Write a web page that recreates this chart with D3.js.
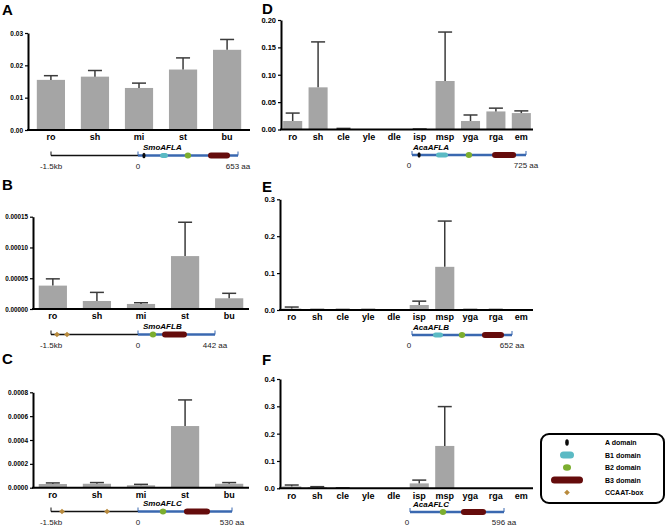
<!DOCTYPE html>
<html>
<head>
<meta charset="utf-8">
<script src="https://cdnjs.cloudflare.com/ajax/libs/d3/7.8.5/d3.min.js"></script>
<style>
  body { margin: 0; background: #fff; }
  svg { font-family: "Liberation Sans", Arial, sans-serif; }
</style>
</head>
<body>
<div id="chart"></div>
<script>
// tissues
const smoTissues = ["ro", "sh", "mi", "st", "bu"];
const acaTissues = ["ro", "sh", "cle", "yle", "dle", "isp", "msp", "yga", "rga", "em"];

// expression means and upper error values
const smoAFLA = [0.0155, 0.0165, 0.0130, 0.0187, 0.0248];
const smoAFLAErr = [0.0168, 0.0184, 0.0145, 0.0223, 0.0280];
const smoAFLB = [0.000038, 0.000013, 0.0000082, 0.000086, 0.0000174];
const smoAFLBErr = [0.000049, 0.000027, 0.0000102, 0.000141, 0.0000255];
const smoAFLC = [0.000031, 0.000033, 0.00002, 0.000517, 0.000033];
const smoAFLCErr = [0.00004, 0.000043, 0.000028, 0.000736, 0.000043];
const acaAFLA = [0.0155, 0.077, 0.001, 0, 0, 0.0004, 0.0886, 0.0155, 0.033, 0.030];
const acaAFLAErr = [0.030, 0.160, 0.002, 0, 0, 0.0009, 0.178, 0.0265, 0.039, 0.034];
const acaAFLB = [0.004, 0.001, 0.001, 0.001, 0, 0.0135, 0.117, 0.001, 0.001, 0];
const acaAFLBErr = [0.008, 0.0015, 0.0015, 0.0015, 0, 0.024, 0.241, 0.0015, 0.0015, 0];
const acaAFLC = [0.007, 0.004, 0.001, 0, 0, 0.018, 0.155, 0, 0, 0];
const acaAFLCErr = [0.012, 0.006, 0.0015, 0, 0, 0.030, 0.299, 0, 0, 0];

// y tick labels
const ticksA = [0, 0.01, 0.02, 0.03];
const ticksB = [0, 0.00005, 0.0001, 0.00015];
const ticksC = [0, 0.0002, 0.0004, 0.0006, 0.0008];
const ticksD = [0, 0.05, 0.10, 0.15, 0.20];
const ticksE = [0, 0.1, 0.2, 0.3];
const ticksF = [0, 0.1, 0.2, 0.3, 0.4];

// gene structures: promoter (bp), protein length (aa), domains in aa, CCAAT boxes in bp
const geneNames = ["SmoAFLA", "SmoAFLB", "SmoAFLC", "AcaAFLA", "AcaAFLB", "AcaAFLC"];
const promoterLen = [1500, 1500, 1500, 0, 0, 0];
const proteinLen = [653, 442, 530, 725, 652, 596];
const aDomain = [39, null, null, 45, null, null];
const b1Domain = [[144, 196], null, null, [153, 229], [137, 202], null];
const b2Domain = [326, 86, 141, 362, 326, 209];
const b3Domain = [[457, 601], [138, 281], [259, 406], [509, 662], [456, 600], [323, 482]];
const ccaatBoxes = [[], [-1397, -1224], [-1310, -534], [], [], []];

const legendLabels = ["A domain", "B1 domain", "B2 domain", "B3 domain", "CCAAT-box"];

const colA = "#0a0a0a", colB1 = "#5bbac4", colB2 = "#7cae2f", colB3 = "#650c0c", colBox = "#b88a3c";
const colProt = "#3a68b0";

const svg = d3.select("#chart").append("svg")
  .attr("width", 666).attr("height", 529);

const panels = [
  {letter: "A", lx: 2, ly: 15, cats: smoTissues, vals: smoAFLA, errs: smoAFLAErr, ticks: ticksA, fmt: ".2f",
   x0: 28, x1: 250, y0: 130, y1: 33, fs: 6.5, pi: 0.36, po: 0.2, gene: 0,
   gy: 155.5, gx: [51, 138, 238]},
  {letter: "B", lx: 2, ly: 190, cats: smoTissues, vals: smoAFLB, errs: smoAFLBErr, ticks: ticksB, fmt: ".5f",
   x0: 33, x1: 249, y0: 309, y1: 216.7, fs: 6.3, pi: 0.36, po: 0.13, gene: 1,
   gy: 334.5, gx: [51, 138, 215]},
  {letter: "C", lx: 2, ly: 364, cats: smoTissues, vals: smoAFLC, errs: smoAFLCErr, ticks: ticksC, fmt: ".4f",
   x0: 33, x1: 249, y0: 487.7, y1: 392.3, fs: 6.5, pi: 0.36, po: 0.13, gene: 2,
   gy: 511.5, gx: [51, 138, 232]},
  {letter: "D", lx: 262, ly: 14, cats: acaTissues, vals: acaAFLA, errs: acaAFLAErr, ticks: ticksD, fmt: ".2f",
   x0: 281, x1: 533, y0: 129.5, y1: 20, fs: 7.5, pi: 0.25, po: 0.085, gene: 3,
   gy: 155, gx: [412, 412, 526]},
  {letter: "E", lx: 262, ly: 192, cats: acaTissues, vals: acaAFLB, errs: acaAFLBErr, ticks: ticksE, fmt: ".1f",
   x0: 280, x1: 533, y0: 310, y1: 199.3, fs: 7.5, pi: 0.25, po: 0.085, gene: 4,
   gy: 335, gx: [412, 412, 512]},
  {letter: "F", lx: 262, ly: 365, cats: acaTissues, vals: acaAFLC, errs: acaAFLCErr, ticks: ticksF, fmt: ".1f",
   x0: 280, x1: 533, y0: 488.3, y1: 379, fs: 7.5, pi: 0.25, po: 0.085, gene: 5,
   gy: 512, gx: [410, 410, 504]}
];

panels.forEach(p => {
  const g = svg.append("g");

  g.append("text").attr("x", p.lx).attr("y", p.ly)
    .attr("font-size", 15).attr("font-weight", "bold").text(p.letter);

  const x = d3.scaleBand().domain(p.cats).range([p.x0, p.x1])
    .paddingInner(p.pi).paddingOuter(p.po);
  const y = d3.scaleLinear().domain([0, p.ticks[p.ticks.length - 1]]).range([p.y0, p.y1]);

  const rows = p.cats.map((c, i) => ({c: c, v: p.vals[i], e: p.errs[i]}));

  // bars
  g.selectAll("rect.bar").data(rows).enter().append("rect")
    .attr("class", "bar")
    .attr("x", d => x(d.c))
    .attr("width", x.bandwidth())
    .attr("y", d => y(d.v))
    .attr("height", d => y(0) - y(d.v))
    .attr("fill", "#a5a5a5");

  // error bars (upper only)
  const cap = 7;
  const eb = g.selectAll("g.err").data(rows.filter(d => d.e > d.v)).enter().append("g")
    .attr("stroke", "#3b3b3b").attr("stroke-width", 1.5);
  eb.append("line")
    .attr("x1", d => x(d.c) + x.bandwidth() / 2).attr("x2", d => x(d.c) + x.bandwidth() / 2)
    .attr("y1", d => y(d.v)).attr("y2", d => y(d.e));
  eb.append("line")
    .attr("x1", d => x(d.c) + x.bandwidth() / 2 - cap).attr("x2", d => x(d.c) + x.bandwidth() / 2 + cap)
    .attr("y1", d => y(d.e)).attr("y2", d => y(d.e));

  // axes
  const yAxis = g.append("g").attr("transform", `translate(${p.x0},0)`)
    .call(d3.axisLeft(y).tickValues(p.ticks).tickFormat(d3.format(p.fmt)).tickSize(3).tickSizeOuter(0));
  yAxis.select(".domain").attr("stroke-width", 2);
  yAxis.selectAll(".tick line").attr("stroke-width", 1.2);
  yAxis.selectAll("text").attr("font-size", p.fs).attr("font-weight", "bold")
    .attr("font-family", "Liberation Sans, Arial, sans-serif").attr("dx", 1);

  const xAxis = g.append("g").attr("transform", `translate(0,${p.y0})`)
    .call(d3.axisBottom(x).tickSize(0).tickSizeOuter(0).tickPadding(4));
  xAxis.select(".domain").attr("stroke-width", 2)
    .attr("d", `M${p.x0 - 1},0H${p.x1}`);
  xAxis.selectAll("text").attr("font-size", 9).attr("font-weight", "bold")
    .attr("font-family", "Liberation Sans, Arial, sans-serif");

  // gene diagram
  const gi = p.gene;
  const gy = p.gy;
  const dg = svg.append("g");
  const prot = d3.scaleLinear().domain([0, proteinLen[gi]]).range([p.gx[1], p.gx[2]]);
  const prom = d3.scaleLinear().domain([-promoterLen[gi], 0]).range([p.gx[0], p.gx[1]]);
  const isSmo = promoterLen[gi] > 0;

  dg.append("text").attr("x", isSmo ? 143 : 413).attr("y", gy - 5.5)
    .attr("font-size", 8).attr("font-weight", "bold").attr("font-style", "italic")
    .text(geneNames[gi]);

  if (isSmo) {
    dg.append("line").attr("x1", prom(-promoterLen[gi])).attr("x2", prom(0))
      .attr("y1", gy).attr("y2", gy).attr("stroke", "#111").attr("stroke-width", 1.5);
    dg.append("line").attr("x1", prom(-promoterLen[gi])).attr("x2", prom(-promoterLen[gi]))
      .attr("y1", gy - 4).attr("y2", gy).attr("stroke", "#111").attr("stroke-width", 1);
  }
  dg.append("line").attr("x1", prot(0)).attr("x2", prot(proteinLen[gi]))
    .attr("y1", gy).attr("y2", gy).attr("stroke", colProt).attr("stroke-width", 2.5);
  [0, proteinLen[gi]].forEach(v => {
    dg.append("line").attr("x1", prot(v)).attr("x2", prot(v))
      .attr("y1", gy - 4).attr("y2", gy).attr("stroke", colProt).attr("stroke-width", 1);
  });

  if (b3Domain[gi]) {
    const [s, e] = b3Domain[gi];
    dg.append("rect").attr("x", prot(s)).attr("y", gy - 3)
      .attr("width", prot(e) - prot(s)).attr("height", 6).attr("rx", 3).attr("fill", colB3);
  }
  if (b1Domain[gi]) {
    const [s, e] = b1Domain[gi];
    dg.append("rect").attr("x", prot(s)).attr("y", gy - 2.5)
      .attr("width", prot(e) - prot(s)).attr("height", 5).attr("rx", 2.5).attr("fill", colB1);
  }
  if (b2Domain[gi] != null) {
    dg.append("ellipse").attr("cx", prot(b2Domain[gi])).attr("cy", gy)
      .attr("rx", 3.2).attr("ry", 3).attr("fill", colB2);
  }
  if (aDomain[gi] != null) {
    dg.append("ellipse").attr("cx", prot(aDomain[gi])).attr("cy", gy)
      .attr("rx", 1.6).attr("ry", 2.8).attr("fill", colA);
  }
  ccaatBoxes[gi].forEach(v => {
    dg.append("path").attr("d", d3.symbol(d3.symbolDiamond2, 20)())
      .attr("transform", `translate(${prom(v)},${gy})`).attr("fill", colBox);
  });

  const lab = dg.append("g").attr("font-size", 8).attr("fill", "#222").attr("text-anchor", "middle");
  if (isSmo) lab.append("text").attr("x", prom(-promoterLen[gi])).attr("y", gy + 13).text("-1.5kb");
  lab.append("text").attr("x", prot(0) - (isSmo ? 0 : 3)).attr("y", gy + 13).text("0");
  lab.append("text").attr("x", prot(proteinLen[gi])).attr("y", gy + 13).text(proteinLen[gi] + " aa");
});

// legend
const lg = svg.append("g");
lg.append("rect").attr("x", 541).attr("y", 434).attr("width", 123).attr("height", 69)
  .attr("rx", 8).attr("fill", "none").attr("stroke", "#000").attr("stroke-width", 2);
const ly = d3.scalePoint().domain(legendLabels).range([442.5, 492.5]);
const sx = 567;
lg.append("ellipse").attr("cx", sx).attr("cy", ly("A domain")).attr("rx", 1.8).attr("ry", 3.2).attr("fill", colA);
lg.append("rect").attr("x", sx - 7).attr("y", ly("B1 domain") - 3.5).attr("width", 14).attr("height", 7)
  .attr("rx", 3.5).attr("fill", colB1);
lg.append("ellipse").attr("cx", sx).attr("cy", ly("B2 domain")).attr("rx", 4).attr("ry", 3.3).attr("fill", colB2);
lg.append("rect").attr("x", sx - 16).attr("y", ly("B3 domain") - 3.5).attr("width", 32).attr("height", 7)
  .attr("rx", 3.5).attr("fill", colB3);
lg.append("path").attr("d", d3.symbol(d3.symbolDiamond2, 20)())
  .attr("transform", `translate(${sx},${ly("CCAAT-box")})`).attr("fill", colBox);
lg.selectAll("text.leg").data(legendLabels).enter().append("text")
  .attr("x", 605).attr("y", d => ly(d) + 2.5)
  .attr("font-size", 7).attr("font-weight", "bold").text(d => d);
</script>
</body>
</html>
